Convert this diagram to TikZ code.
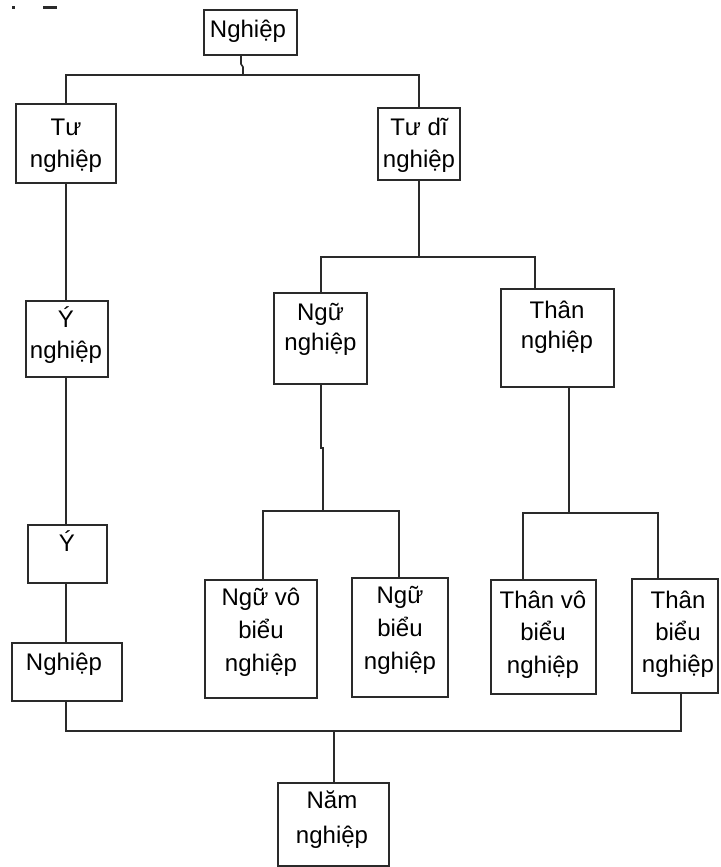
\documentclass[tikz,border=0pt]{standalone}
\usepackage{fontspec}
\setmainfont{Liberation Sans}
\begin{document}
\begin{tikzpicture}[x=1pt,y=-1pt,
  box/.style={draw=ink, line width=1.6pt, rectangle, inner sep=0pt, outer sep=0pt},
  txt/.style={inner sep=0pt, align=center, anchor=north, text=black, font=\fontsize{24}{#1}\selectfont},
  txt/.default=32,
  wire/.style={draw=ink, line width=1.6pt}]
\definecolor{ink}{HTML}{2A2A2A}
\useasboundingbox (0,0) rectangle (720,867);
\newcommand{\fl}{\rule{0pt}{26pt}}
% stray marks
\fill[ink] (12,6) rectangle (15,9);
\fill[ink] (43,6) rectangle (57,9);
% boxes
\node[box, minimum width=93pt,  minimum height=45pt]  (top)  at (250.5,32.5) {};
\node[box, minimum width=100pt, minimum height=79pt]  (tu)   at (66,143.5) {};
\node[box, minimum width=82pt,  minimum height=72pt]  (tudi) at (419,144) {};
\node[box, minimum width=93pt,  minimum height=91pt]  (ngu)  at (320.5,338.5) {};
\node[box, minimum width=113pt, minimum height=98pt]  (than) at (557.5,338) {};
\node[box, minimum width=82pt,  minimum height=76pt]  (yn)   at (67,339) {};
\node[box, minimum width=79pt,  minimum height=58pt]  (y)    at (67.5,554) {};
\node[box, minimum width=110pt, minimum height=58pt]  (ngh)  at (67,672) {};
\node[box, minimum width=112pt, minimum height=118pt] (nvb)  at (261,639) {};
\node[box, minimum width=96pt,  minimum height=119pt] (nb)   at (400,637.5) {};
\node[box, minimum width=105pt, minimum height=114pt] (tvb)  at (543.5,637) {};
\node[box, minimum width=86pt,  minimum height=114pt] (tb)   at (675,636) {};
\node[box, minimum width=111pt, minimum height=83pt]  (nam)  at (333.5,824.5) {};
% texts
\node[txt] (t-top)  at (248,11)    {\fl Nghiệp};
\node[txt] (t-tu)   at (66,109)    {\fl Tư\\nghiệp};
\node[txt] (t-tudi) at (419,109)   {\fl Tư dĩ\\nghiệp};
\node[txt=30] (t-ngu)  at (320.5,294) {\fl Ngữ\\nghiệp};
\node[txt=30] (t-than) at (557,292)   {\fl Thân\\nghiệp};
\node[txt=31] (t-yn)   at (66,301)    {\fl Ý\\nghiệp};
\node[txt] (t-y)    at (67,525)    {\fl Ý};
\node[txt] (t-ngh)  at (64,644)    {\fl Nghiệp};
\node[txt=33] (t-nvb)  at (261,579)   {\fl Ngữ vô\\biểu\\nghiệp};
\node[txt=33] (t-nb)   at (400,577)   {\fl Ngữ\\biểu\\nghiệp};
\node[txt=32.5] (t-tvb) at (543,582)  {\fl Thân vô\\biểu\\nghiệp};
\node[txt=32] (t-tb)   at (678,582)   {\fl Thân\\biểu\\nghiệp};
\node[txt=35] (t-nam)  at (332,782)   {\fl Năm\\nghiệp};
% junction coordinates
\coordinate (j1) at (243,75);
\coordinate (c1) at (241,0);
\coordinate (j2) at (419,257);
\coordinate (c2) at (535,0);
\coordinate (c3) at (321,0);
\coordinate (j3) at (321,448);
\coordinate (j4) at (323,511);
\coordinate (c4a) at (263,0);
\coordinate (c4b) at (399,0);
\coordinate (j5) at (569,513);
\coordinate (c5a) at (523,0);
\coordinate (c5b) at (658,0);
\coordinate (j6) at (334,731);
\coordinate (c6) at (681,0);
\coordinate (c0) at (66,0);
% connectors
\draw[wire] (top.south -| c1) -- ++(0,9) -- ++(2,3) -- (j1);
\draw[wire] (tu.north -| c0) -- (c0 |- j1) -- (tudi.north |- j1) -- (tudi.north);
\draw[wire] (tudi.south) -- (j2);
\draw[wire] (ngu.north -| c3) -- (c3 |- j2) -- (c2 |- j2) -- (than.north -| c2);
\draw[wire] (tu.south -| c0) -- (yn.north -| c0);
\draw[wire] (yn.south -| c0) -- (y.north -| c0);
\draw[wire] (y.south -| c0) -- (ngh.north -| c0);
\draw[wire] (ngu.south -| c3) -- (j3) -- ++(2,0) -- (j4);
\draw[wire] (nvb.north -| c4a) -- (c4a |- j4) -- (c4b |- j4) -- (nb.north -| c4b);
\draw[wire] (than.south -| j5) -- (j5);
\draw[wire] (tvb.north -| c5a) -- (c5a |- j5) -- (c5b |- j5) -- (tb.north -| c5b);
\draw[wire] (ngh.south -| c0) -- (c0 |- j6) -- (c6 |- j6) -- (tb.south -| c6);
\draw[wire] (j6) -- (nam.north -| j6);
\end{tikzpicture}
\end{document}
